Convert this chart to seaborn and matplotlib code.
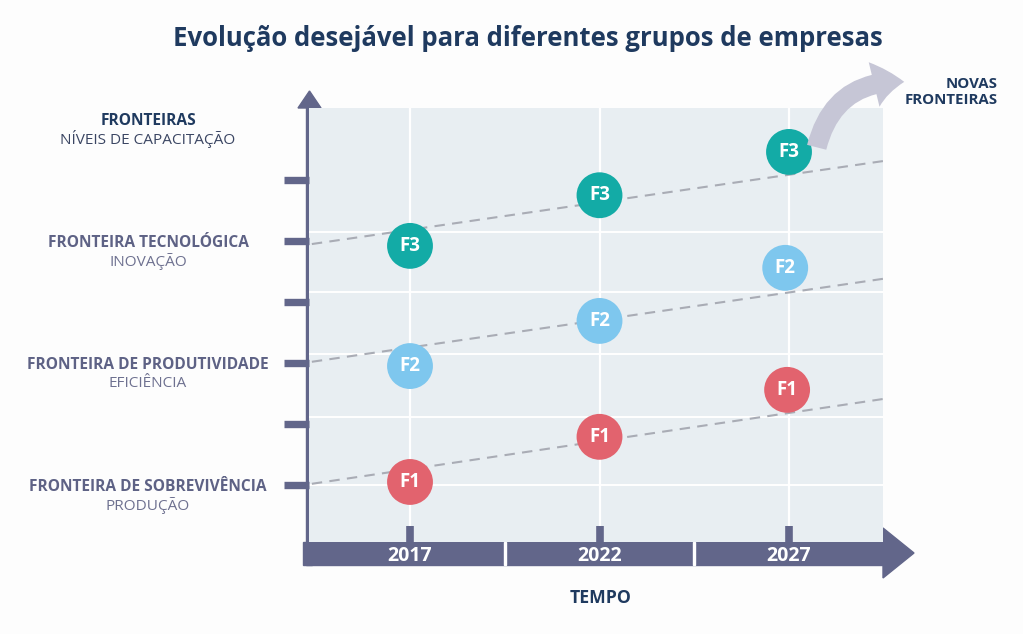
import pandas as pd
import matplotlib.pyplot as plt
import seaborn as sns
import numpy as np
from matplotlib.patches import Rectangle, Polygon, FancyArrowPatch, ArrowStyle

# Data
anos = [2017, 2022, 2027]
anos_rotulos = ["2017", "2022", "2027"]
grupos = ["F1", "F2", "F3"]
f1_x = [2017, 2022, 2026.95]
f1_nivel = [0.05, 0.79, 1.56]
f2_x = [2017, 2022, 2026.9]
f2_nivel = [1.95, 2.69, 3.56]
f3_x = [2017, 2022, 2027]
f3_nivel = [3.92, 4.75, 5.46]

# dashed frontier lines (value at the left and right edge of the panel)
fronteira_x = [2014.41, 2029.48]
fronteira_esq = [0.02, 2.02, 3.95]
fronteira_dir = [1.41, 3.38, 5.31]

niveis_ticks = [0, 1, 2, 3, 4, 5]
grade_y = [0, 1.11, 2.15, 3.16, 4.15]
separadores = [2019.5, 2024.5]

rotulos_y = [6, 4, 2, 0]
rotulos_forte = ["FRONTEIRAS", "FRONTEIRA TECNOLÓGICA",
                 "FRONTEIRA DE PRODUTIVIDADE", "FRONTEIRA DE SOBREVIVÊNCIA"]
rotulos_fraco = ["NÍVEIS DE CAPACITAÇÃO", "INOVAÇÃO", "EFICIÊNCIA", "PRODUÇÃO"]

df = pd.DataFrame({
    "ano": f1_x + f2_x + f3_x,
    "nivel": f1_nivel + f2_nivel + f3_nivel,
    "grupo": ["F1"] * 3 + ["F2"] * 3 + ["F3"] * 3,
})

cores = {"F1": "#e2636e", "F2": "#7ec7ee", "F3": "#13aba6"}
eixo_cor = "#62668a"
navy = "#1f3a5f"

sns.set_theme(style="white")
plt.rcParams["font.family"] = ["Open Sans", "DejaVu Sans"]

W, H = 1023, 634
XMIN, XMAX = 2014.335, 2029.48
fig = plt.figure(figsize=(W / 100, H / 100), dpi=100)
fig.patch.set_facecolor("#fdfdfd")


def fx(px):
    return px / W


def fy(py):
    return 1 - py / H


ax = fig.add_axes([fx(309), fy(542), (883 - 309) / W, (542 - 108) / H])
ax.set_facecolor("#e8eef2")
ax.set_xlim(XMIN, XMAX)
ax.set_ylim(-0.934, 6.18)
ax.set_axisbelow(False)
for s in ax.spines.values():
    s.set_visible(False)

# grid
for a in anos:
    ax.axvline(a, color="white", lw=1.6, zorder=1)
for g in grade_y:
    ax.axhline(g, color="white", lw=1.4, zorder=1)

# frontier lines
for e, d in zip(fronteira_esq, fronteira_dir):
    ax.plot(fronteira_x, [e, d], color="#a9acb5", lw=1.5, ls=(0, (5, 3.5)), zorder=2)

# circles
sns.scatterplot(data=df, x="ano", y="nivel", hue="grupo", palette=cores, s=1090,
                edgecolor="none", legend=False, ax=ax, zorder=4)
for _, r in df.iterrows():
    ax.text(r["ano"], r["nivel"], r["grupo"], color="white", fontsize=13.5,
            fontweight="bold", ha="center", va="center", zorder=5)

# ticks
ax.set_xticks(anos)
ax.set_xticklabels(anos_rotulos)
ax.set_yticks(niveis_ticks)
ax.set_yticklabels([])
ax.tick_params(axis="x", direction="in", length=11.5, width=5.5, color=eixo_cor,
               pad=3, labelsize=14, labelcolor="white", bottom=True)
ax.tick_params(axis="y", direction="out", length=18, width=5.3, color=eixo_cor, left=True)
for t in ax.get_xticklabels():
    t.set_fontweight("bold")
ax.xaxis.set_zorder(3)
ax.yaxis.set_zorder(3)
ax.set_xlabel("")
ax.set_ylabel("")
ax.set_zorder(4)

# axis bars and arrows (decoration, drawn below the axes)
fig.add_artist(Rectangle((fx(303), fy(565)), (883 - 303) / W, 23 / H,
                         transform=fig.transFigure, color=eixo_cor, zorder=3))
fig.add_artist(Polygon([(fx(883), fy(528)), (fx(914), fy(553)), (fx(883), fy(578))],
                       closed=True, transform=fig.transFigure, color=eixo_cor, zorder=3))
fig.add_artist(Rectangle((fx(306), fy(565)), 6 / W, (565 - 107) / H,
                         transform=fig.transFigure, color=eixo_cor, zorder=3))
fig.add_artist(Polygon([(fx(298), fy(108)), (fx(321), fy(108)), (fx(309.5), fy(91))],
                       closed=True, transform=fig.transFigure, color=eixo_cor, zorder=3))
for sx in separadores:
    px = fx(309) + (sx - XMIN) / (XMAX - XMIN) * (883 - 309) / W
    fig.add_artist(Rectangle((px - 1 / W, fy(565)), 2 / W, 23 / H,
                             transform=fig.transFigure, color="white", zorder=3.5))

# curved arrow to new frontiers
seta = FancyArrowPatch((fx(816), fy(150)), (fx(907), fy(82)), transform=fig.transFigure,
                       connectionstyle="arc3,rad=-0.42",
                       arrowstyle=ArrowStyle.Simple(head_length=1.45, head_width=2.2, tail_width=0.95),
                       mutation_scale=15, color="#c6c6d6", lw=0, zorder=6)
fig.add_artist(seta)

# left labels
ytr = ax.get_yaxis_transform()
lx = (148 - 309) / (883 - 309)
for i, (yv, forte, fraco) in enumerate(zip(rotulos_y, rotulos_forte, rotulos_fraco)):
    c1 = navy if i == 0 else "#5e6285"
    c2 = "#3b4663" if i == 0 else "#6e7190"
    ax.text(lx, yv - 0.025, forte, transform=ytr, ha="center", va="center", fontsize=11.2,
            fontweight="bold", color=c1, clip_on=False)
    ax.text(lx, yv - 0.335, fraco, transform=ytr, ha="center", va="center", fontsize=11.1,
            color=c2, clip_on=False)

fig.text(fx(528), fy(38), "Evolução desejável para diferentes grupos de empresas",
         ha="center", va="center", fontsize=18.5, fontweight="bold", color=navy)
fig.text(fx(601), fy(598), "TEMPO", ha="center", va="center", fontsize=12.7,
         fontweight="bold", color=navy)
fig.text(fx(998), fy(92), "NOVAS\nFRONTEIRAS", ha="right", va="center", fontsize=10.8,
         fontweight="bold", color=navy, linespacing=1.1)

fig.savefig("out.png", dpi=100, facecolor=fig.get_facecolor())
